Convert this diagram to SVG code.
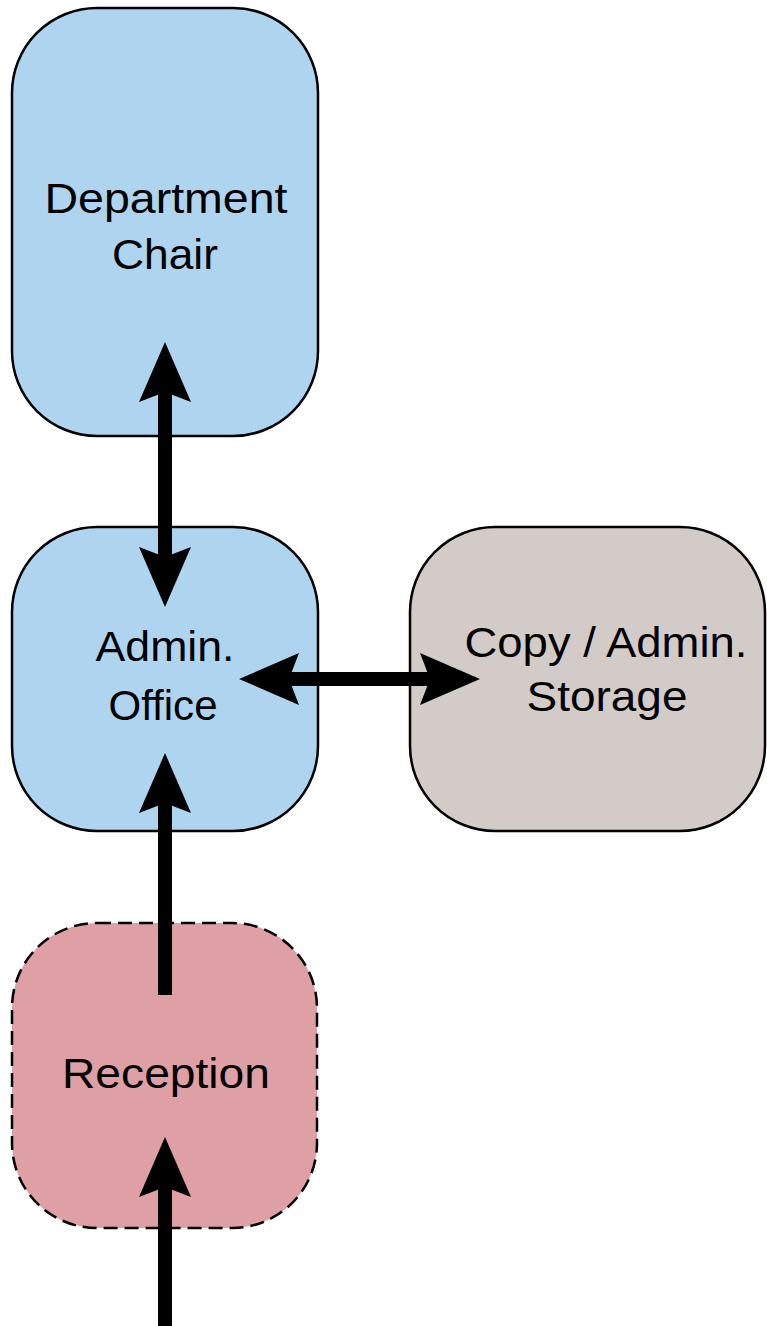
<svg xmlns="http://www.w3.org/2000/svg" width="767" height="1326" viewBox="0 0 767 1326">
  <style>
    .box { stroke: #000; stroke-width: 2.5; }
    .blue { fill: #AED4EF; }
    .grey { fill: #D3CBC7; }
    .pink { fill: #DE9FA5; stroke-dasharray: 14 7; }
    .label { font-family: "Liberation Sans", Arial, sans-serif; font-size: 42px; fill: #000; text-anchor: middle; }
    .link { stroke: #000; stroke-width: 14; fill: none; marker-end: url(#head); }
    .both { marker-start: url(#head); }
  </style>
  <defs>
    <marker id="head" markerUnits="userSpaceOnUse" markerWidth="60" markerHeight="52" refX="10" refY="26" orient="auto-start-reverse" overflow="visible">
      <path d="M0,0 L60,26 L0,52 L10,26 Z" fill="#000"/>
    </marker>
  </defs>

  <rect width="767" height="1326" fill="#fff"/>

  <g id="department-chair">
    <rect class="box blue" x="12" y="8" width="306" height="428" rx="85" ry="85"/>
    <text class="label" x="166" y="213" textLength="243" lengthAdjust="spacingAndGlyphs">Department</text>
    <text class="label" x="165" y="269" textLength="106" lengthAdjust="spacingAndGlyphs">Chair</text>
  </g>

  <g id="admin-office">
    <rect class="box blue" x="12" y="527" width="306" height="304" rx="85" ry="85"/>
    <text class="label" x="165" y="661" textLength="139" lengthAdjust="spacingAndGlyphs">Admin.</text>
    <text class="label" x="163" y="720" textLength="109" lengthAdjust="spacingAndGlyphs">Office</text>
  </g>

  <g id="copy-storage">
    <rect class="box grey" x="410" y="527" width="355" height="304" rx="85" ry="85"/>
    <text class="label" x="606" y="657" textLength="283" lengthAdjust="spacingAndGlyphs">Copy / Admin.</text>
    <text class="label" x="607" y="711" textLength="161" lengthAdjust="spacingAndGlyphs">Storage</text>
  </g>

  <g id="reception">
    <rect class="box pink" x="12" y="923" width="305" height="305" rx="85" ry="85"/>
    <text class="label" x="166" y="1088" textLength="208" lengthAdjust="spacingAndGlyphs">Reception</text>
  </g>

  <g id="connectors">
    <line class="link both" x1="165" y1="557" x2="165" y2="392"/>
    <line class="link both" x1="430" y1="679" x2="289" y2="679"/>
    <line class="link" x1="165" y1="995" x2="165" y2="803"/>
    <line class="link" x1="165" y1="1332" x2="165" y2="1187"/>
  </g>
</svg>
